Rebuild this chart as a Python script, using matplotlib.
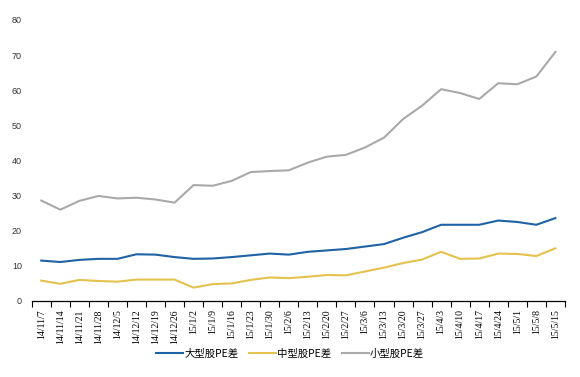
import matplotlib
matplotlib.use("Agg")
import matplotlib.pyplot as plt

dates = ["14/11/7", "14/11/14", "14/11/21", "14/11/28", "14/12/5", "14/12/12",
         "14/12/19", "14/12/26", "15/1/2", "15/1/9", "15/1/16", "15/1/23",
         "15/1/30", "15/2/6", "15/2/13", "15/2/20", "15/2/27", "15/3/6",
         "15/3/13", "15/3/20", "15/3/27", "15/4/3", "15/4/10", "15/4/17",
         "15/4/24", "15/5/1", "15/5/8", "15/5/15"]
large = [11.5, 11.1, 11.7, 12.0, 12.0, 13.3, 13.2, 12.5, 12.0, 12.1, 12.5, 13.0,
         13.5, 13.2, 14.0, 14.4, 14.8, 15.5, 16.2, 18.0, 19.6, 21.7, 21.7, 21.7,
         22.9, 22.5, 21.7, 23.6]
mid = [5.8, 4.9, 6.0, 5.7, 5.5, 6.1, 6.1, 6.1, 3.8, 4.8, 5.0, 6.0,
       6.7, 6.5, 6.9, 7.4, 7.3, 8.4, 9.5, 10.8, 11.8, 14.0, 12.0, 12.1,
       13.5, 13.4, 12.8, 15.0]
small = [28.6, 26.0, 28.5, 29.9, 29.2, 29.4, 28.9, 28.0, 33.0, 32.8, 34.2, 36.7,
         37.0, 37.2, 39.4, 41.1, 41.6, 43.7, 46.5, 51.8, 55.6, 60.3, 59.2, 57.5,
         62.0, 61.7, 63.9, 70.9]
names = ["大型股PE差", "中型股PE差", "小型股PE差"]
yticks = [0, 10, 20, 30, 40, 50, 60, 70, 80]

fig = plt.figure(figsize=(5.8, 3.77), dpi=100)
ax = fig.add_axes([0.0547, 0.2016, 0.9193, 0.7454])

x = list(range(len(dates)))
ax.plot(x, large, color="#1F62A5", lw=1.5, label=names[0], solid_joinstyle="round")
ax.plot(x, mid, color="#E5C14E", lw=1.5, label=names[1], solid_joinstyle="round")
ax.plot(x, small, color="#A9A9A9", lw=1.5, label=names[2], solid_joinstyle="round")

ax.set_xlim(-0.5, len(dates) - 0.5)
ax.set_ylim(0, 80)
ax.set_yticks(yticks)
ax.set_yticklabels([str(v) for v in yticks], fontsize=6.5, family="Liberation Sans",
                   color="#333333")
ax.tick_params(axis="y", length=0, pad=7)

ax.set_xticks([i - 0.5 for i in range(len(dates) + 1)], minor=False)
ax.set_xticklabels([""] * (len(dates) + 1))
ax.set_xticks(x, minor=True)
ax.set_xticklabels(dates, minor=True, rotation=90, fontsize=7,
                   family="Liberation Serif", va="top", ha="center")
ax.tick_params(axis="x", which="major", direction="out", length=4, width=0.8, color="black")
ax.tick_params(axis="x", which="minor", length=0, pad=6)

for s in ["top", "right", "left"]:
    ax.spines[s].set_visible(False)
ax.spines["bottom"].set_color("black")
ax.spines["bottom"].set_linewidth(0.9)

leg = fig.legend(loc="center", bbox_to_anchor=(0.5, 0.062), ncol=3, frameon=False,
                 prop={"family": ["Noto Sans CJK SC", "DejaVu Sans"], "size": 7.5},
                 handlelength=2.6, handletextpad=0.1, columnspacing=1.0)

fig.savefig("out.png", dpi=100)
